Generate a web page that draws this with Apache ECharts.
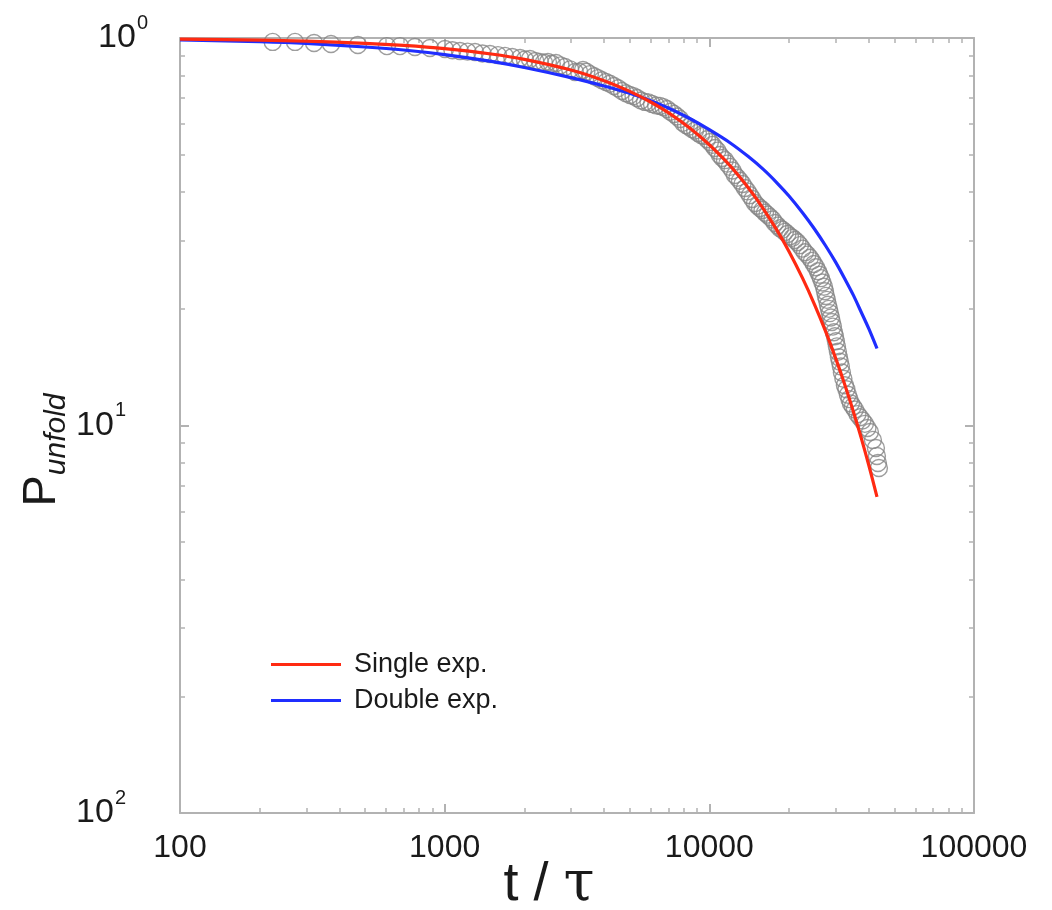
<!DOCTYPE html>
<html><head><meta charset="utf-8">
<script src="https://cdn.jsdelivr.net/npm/echarts@6/dist/echarts.min.js"></script>
<style>html,body{margin:0;padding:0;background:#fff}#c{width:1052px;height:910px}</style>
</head><body><div id="c"></div>
<script>
// Observed survival data (t / tau, P_unfold) - outline of the circle band
const obsT = [224,272,321,372,470,605,678,772,880,1003,1142,1302,1483,1690,1926,2100,2291,2456,2634,2848,3106,3331,3539,3795,4069,4362,4676,5012,5328,5712,6071,6509,6918,7352,7745,8156,8597,9056,9541,10053,10498,10965,11454,11963,12494,13053,13632,14236,14870,15532,16226,16943,17694,18482,19304,20162,21058,21994,22971,23993,24845,25724,26402,27102,27575,28058,28550,29051,29560,30078,30606,31141,31688,32526,33385,34274,35487,37069,38708,40431,41503,42600,42972,43346,43724];
const obsP = [0.977,0.977,0.971,0.965,0.959,0.953,0.953,0.948,0.942,0.937,0.926,0.920,0.909,0.899,0.888,0.883,0.867,0.867,0.862,0.842,0.817,0.827,0.807,0.788,0.770,0.752,0.730,0.713,0.700,0.684,0.676,0.668,0.656,0.637,0.618,0.596,0.582,0.569,0.559,0.539,0.520,0.499,0.484,0.465,0.443,0.428,0.410,0.393,0.375,0.364,0.354,0.345,0.333,0.323,0.316,0.308,0.301,0.292,0.280,0.271,0.261,0.250,0.240,0.228,0.216,0.205,0.195,0.185,0.174,0.165,0.155,0.146,0.137,0.127,0.120,0.114,0.110,0.105,0.101,0.0962,0.0918,0.0875,0.0834,0.0800,0.0777];
// Further circles inside the dense part of the band
const obsT2 = [1070,1220,1390,1590,1800,2010,2200,2370,2540,2740,2980,3220,3430,3670,3930,4210,4520,4840,5170,5520,5890,6290,6710,7130,7550,7950,8380,8830,9300,9800,10280,10730,11200,11700,12230,12770,13340,13930,14550,15200,15880,16580,17320,18090,18890,19730,20610,21520,22480,23480,24420,25280,26060,26750,27340,27810,28300,28800,29300,29820,30340,30870,31410,32100,32950,33830,34880,36280,37890,39570];
const obsP2 = [0.930,0.922,0.912,0.903,0.893,0.880,0.872,0.864,0.858,0.850,0.830,0.818,0.818,0.797,0.778,0.762,0.742,0.720,0.708,0.690,0.682,0.670,0.663,0.645,0.627,0.604,0.590,0.577,0.562,0.548,0.530,0.512,0.490,0.474,0.455,0.436,0.420,0.402,0.384,0.369,0.360,0.350,0.340,0.328,0.320,0.312,0.305,0.297,0.286,0.276,0.266,0.256,0.245,0.234,0.222,0.211,0.200,0.190,0.180,0.170,0.160,0.150,0.142,0.132,0.124,0.117,0.112,0.107,0.103,0.0985];
// Single exponential fit
const singleT = [100,200,300,500,700,1000,1500,2000,3000,4000,5000,6000,7000,8500,10000,11500,13000,14500,16000,18000,20000,22500,25000,27500,30000,32500,35000,37500,40000,43000];
const singleP = [0.9937,0.9874,0.9812,0.9688,0.9566,0.9385,0.9093,0.8809,0.8268,0.7760,0.7283,0.6836,0.6416,0.5833,0.5304,0.4823,0.4385,0.3987,0.3625,0.3193,0.2813,0.2400,0.2049,0.1749,0.1492,0.1274,0.1087,0.0928,0.0792,0.0654];
// Double exponential fit
const doubleT = [100,200,300,500,700,1000,1500,2000,3000,4000,5000,6000,7000,8500,10000,12000,14000,16000,18000,20000,22500,25000,27500,30000,32500,35000,37500,40000,43000];
const doubleP = [0.989,0.978,0.968,0.948,0.931,0.906,0.870,0.839,0.790,0.752,0.720,0.689,0.660,0.618,0.580,0.536,0.495,0.458,0.423,0.391,0.354,0.321,0.291,0.264,0.239,0.217,0.196,0.178,0.158];

const xTickLabels = ['100','1000','10000','100000'];
const yTickValues = [1, 0.1, 0.01];
const yTickBase = ['10','10','10'];
const yTickExp = ['0','1','2'];
const minorMult = [2,3,4,5,6,7,8,9];
const xDecades = [100,1000,10000];
const yDecades = [0.01,0.1];

const xMinorLog = [], yMinorLog = [];
xDecades.forEach(d => minorMult.forEach(m => xMinorLog.push(Math.log10(d*m))));
yDecades.forEach(d => minorMult.forEach(m => yMinorLog.push(Math.log10(d*m))));

const FONT = '"Liberation Sans", Arial, Helvetica, sans-serif';
const AX = '#b2b2b2';
const lineAx = {show:true, onZero:false, lineStyle:{color:AX, width:2}};
const noAx = {show:false, onZero:false};

function yLabel(v){
  let best = 0, bd = 1e9;
  yTickValues.forEach((t,i)=>{const d=Math.abs(Math.log10(v)-Math.log10(t)); if(d<bd){bd=d;best=i;}});
  return '{b|' + yTickBase[best] + '}{' + (best===0 ? 's0' : 's') + '|' + yTickExp[best] + '}';
}
function xLabel(v){
  const i = Math.round(Math.log10(v)) - 2;
  return xTickLabels[i] || '';
}

const chart = echarts.init(document.getElementById('c'), null, {renderer:'canvas'});
chart.setOption({
  animation:false,
  backgroundColor:'#fff',
  grid:{left:180, right:78, top:38, bottom:97, outerBoundsMode:'none', containLabel:false},
  xAxis:[
    {type:'log', logBase:10, min:100, max:100000, position:'bottom',
     axisLine:lineAx, axisTick:{show:true, inside:true, length:9, lineStyle:{color:AX, width:2}},
     axisLabel:{formatter:xLabel, fontSize:32, color:'#1a1a1a', margin:19, fontFamily:FONT},
     splitLine:{show:false},
     name:'{t|t / }{g|τ}', nameLocation:'middle', nameGap:44, nameMoveOverlap:false,
     nameTextStyle:{padding:[0,56,0,0], rich:{t:{fontSize:54, fontFamily:FONT, color:'#1a1a1a'}, g:{fontSize:56, fontFamily:'"DejaVu Serif", serif', color:'#1a1a1a'}}}},
    {type:'value', min:2, max:5, position:'bottom', axisLine:noAx,
     axisTick:{show:true, inside:true, length:5, customValues:xMinorLog, lineStyle:{color:AX, width:1.5}},
     axisLabel:{show:false}, splitLine:{show:false}},
    {type:'log', logBase:10, min:100, max:100000, position:'top',
     axisLine:lineAx, axisTick:{show:true, inside:true, length:9, lineStyle:{color:AX, width:2}},
     axisLabel:{show:false}, splitLine:{show:false}},
    {type:'value', min:2, max:5, position:'top', axisLine:noAx,
     axisTick:{show:true, inside:true, length:5, customValues:xMinorLog, lineStyle:{color:AX, width:1.5}},
     axisLabel:{show:false}, splitLine:{show:false}}
  ],
  yAxis:[
    {type:'log', logBase:10, min:0.01, max:1, position:'left',
     axisLine:lineAx, axisTick:{show:true, inside:true, length:9, lineStyle:{color:AX, width:2}},
     axisLabel:{formatter:yLabel, margin:32, color:'#1a1a1a',
       rich:{b:{fontSize:34, fontFamily:FONT, color:'#1a1a1a'},
             s:{fontSize:20, fontFamily:FONT, color:'#1a1a1a', padding:[0,22,30,1]},
             s0:{fontSize:20, fontFamily:FONT, color:'#1a1a1a', padding:[0,0,30,1]}}},
     splitLine:{show:false}},
    {type:'value', min:-2, max:0, position:'left', axisLine:noAx,
     axisTick:{show:true, inside:true, length:5, customValues:yMinorLog, lineStyle:{color:AX, width:1.5}},
     axisLabel:{show:false}, splitLine:{show:false}},
    {type:'log', logBase:10, min:0.01, max:1, position:'right',
     axisLine:lineAx, axisTick:{show:true, inside:true, length:9, lineStyle:{color:AX, width:2}},
     axisLabel:{show:false}, splitLine:{show:false}},
    {type:'value', min:-2, max:0, position:'right', axisLine:noAx,
     axisTick:{show:true, inside:true, length:5, customValues:yMinorLog, lineStyle:{color:AX, width:1.5}},
     axisLabel:{show:false}, splitLine:{show:false}}
  ],
  legend:{
    data:['Single exp.','Double exp.'], orient:'vertical', left:266, top:646,
    icon:'rect', itemWidth:70, itemHeight:3, itemGap:9,
    textStyle:{fontSize:27, color:'#1a1a1a', fontFamily:FONT, padding:[0,0,0,8]}
  },
  graphic:[{
    type:'text', x:42, y:450, rotation:Math.PI/2,
    style:{text:'{p|P}{s|unfold}', align:'center', verticalAlign:'middle',
      rich:{p:{fontSize:47, fontFamily:FONT, fill:'#1a1a1a'},
            s:{fontSize:30, fontStyle:'italic', fontFamily:FONT, fill:'#1a1a1a', padding:[30,0,0,0]}}}
  }],
  series:[
    {type:'scatter', name:'data', xAxisIndex:0, yAxisIndex:0, z:2,
     data:obsT.map((t,i)=>[t,obsP[i]]), symbol:'circle', symbolSize:17,
     itemStyle:{color:'rgba(0,0,0,0)', borderColor:'#858585', borderWidth:1.4}},
    {type:'scatter', name:'data2', xAxisIndex:0, yAxisIndex:0, z:2,
     data:obsT2.map((t,i)=>[t,obsP2[i]]), symbol:'circle', symbolSize:17,
     itemStyle:{color:'rgba(0,0,0,0)', borderColor:'#858585', borderWidth:1.4}},
    {type:'line', name:'Single exp.', xAxisIndex:0, yAxisIndex:0, z:4, smooth:0.3,
     data:singleT.map((t,i)=>[t,singleP[i]]), showSymbol:false, symbol:'none',
     itemStyle:{color:'#ff2a12'}, lineStyle:{color:'#ff2a12', width:3.2}},
    {type:'line', name:'Double exp.', xAxisIndex:0, yAxisIndex:0, z:3, smooth:0.3,
     data:doubleT.map((t,i)=>[t,doubleP[i]]), showSymbol:false, symbol:'none',
     itemStyle:{color:'#1f2eff'}, lineStyle:{color:'#1f2eff', width:3.2}}
  ]
});
</script></body></html>
